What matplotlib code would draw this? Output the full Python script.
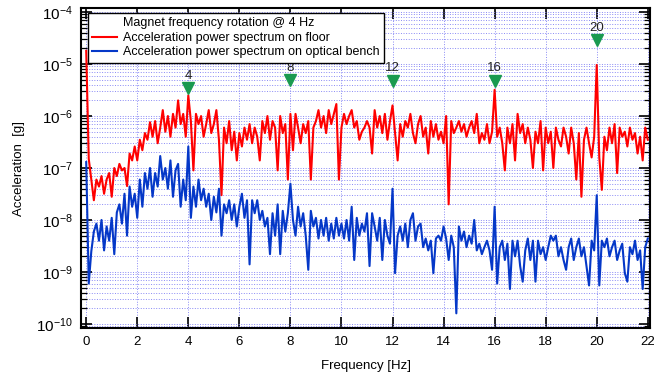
import matplotlib.pyplot as plt
from matplotlib.lines import Line2D
import numpy as np

plt.rcParams['font.family'] = ['Liberation Sans', 'DejaVu Sans']

# frequency grid, 0.1 Hz steps
freq = np.round(np.arange(0, 221) * 0.1, 1)

# floor spectrum [g], one row per Hz
floor = [
    1.8e-5, 1.5e-7, 6e-8, 2.4e-8, 6e-8, 4.4e-8, 7e-8, 3.2e-8, 6e-8, 8e-8,
    2.8e-8, 1e-7, 7e-8, 1.2e-7, 9e-8, 1e-7, 4.5e-8, 1.9e-7, 1.4e-7, 2.6e-7,
    1.4e-7, 3.5e-7, 2.2e-7, 4.7e-7, 3.5e-7, 7.6e-7, 4e-7, 8e-7, 3e-7, 6e-7,
    1.3e-6, 5e-7, 1e-6, 4e-7, 1.1e-6, 6e-7, 2e-6, 7e-7, 1.1e-6, 4e-7,
    2.5e-6, 8e-7, 9e-8, 1.1e-6, 7e-7, 1e-6, 4e-7, 7e-7, 1.3e-6, 4.7e-7,
    7e-7, 1.3e-6, 3.5e-7, 3e-8, 6e-7, 3e-7, 8e-7, 2.2e-7, 5e-7, 1.4e-7,
    4.7e-7, 2.6e-7, 6e-7, 3.5e-7, 7e-7, 3e-7, 6e-7, 4e-7, 1.4e-7, 8e-7,
    4.7e-7, 1e-6, 3.5e-7, 8e-7, 6e-7, 9e-8, 1e-6, 4.7e-7, 7e-7, 6e-8,
    1.1e-6, 2.2e-7, 1.1e-6, 6e-7, 3e-7, 7e-7, 4.7e-7, 8e-7, 6e-8, 6e-7,
    8e-7, 1.3e-6, 6e-7, 1e-6, 4.7e-7, 1.3e-6, 7e-7, 1.1e-6, 1.7e-6, 6e-8,
    6e-7, 1.1e-6, 7e-7, 1e-6, 1.3e-6, 6e-7, 8e-7, 3.5e-7, 5e-7, 6e-7,
    8e-7, 6e-7, 1.9e-7, 1.3e-6, 6e-7, 1e-6, 4.7e-7, 1.1e-6, 3.5e-7, 8e-7,
    1.6e-6, 4.7e-7, 1.4e-7, 7e-7, 4e-7, 8e-7, 6e-7, 1.1e-6, 4.7e-7, 3e-7,
    7e-7, 1e-6, 4e-7, 6e-7, 1.9e-7, 8e-7, 4e-7, 7e-7, 3.5e-7, 5e-7,
    3e-7, 1e-6, 2e-8, 8e-7, 4.7e-7, 6e-7, 8e-7, 5e-7, 7e-7, 4e-7,
    6e-7, 8e-7, 4.7e-7, 1.1e-6, 3e-7, 4.7e-7, 3.5e-7, 7e-7, 3e-7, 5e-7,
    3.2e-6, 4e-7, 6e-7, 3e-7, 9e-8, 6e-7, 3e-7, 7e-7, 1.4e-7, 1.1e-6,
    4.7e-7, 7e-7, 3e-7, 6e-7, 3.5e-7, 1e-7, 5e-7, 3e-7, 8e-7, 9e-8,
    6e-7, 3e-7, 5e-7, 1e-7, 6e-7, 3.5e-7, 2.6e-7, 6e-7, 4e-7, 1.9e-7,
    6e-7, 3e-7, 6e-8, 4.7e-7, 2.8e-8, 3.5e-7, 6e-7, 3e-7, 1.6e-7, 4e-7,
    9.6e-6, 1.6e-7, 3.8e-8, 4e-7, 2.2e-7, 6e-7, 3e-7, 7e-7, 8e-8, 6e-7,
    4e-7, 5e-7, 2.6e-7, 6e-7, 3.5e-7, 4.7e-7, 1.9e-7, 4e-7, 1.4e-7, 6e-7,
    3.5e-7,
]

# optical bench spectrum [g]
bench = [
    1.3e-7, 6e-10, 2.5e-9, 6e-9, 8.5e-9, 4e-9, 1e-8, 2.6e-9, 7.5e-9, 4e-9,
    1.1e-8, 2.2e-9, 1.4e-8, 2e-8, 8.5e-9, 3.2e-8, 5e-9, 4.4e-8, 1.8e-8, 3.2e-8,
    1.1e-8, 6e-8, 1.8e-8, 8e-8, 4e-8, 1e-7, 2.8e-8, 8e-8, 4.4e-8, 1.7e-7,
    6e-8, 1e-7, 4e-8, 1.4e-7, 2.8e-8, 9e-8, 1.2e-7, 1.8e-8, 6e-8, 2.4e-8,
    2.6e-7, 1.1e-8, 4.4e-8, 1.8e-8, 6e-8, 2.4e-8, 4e-8, 1.8e-8, 3.2e-8, 1e-8,
    2.8e-8, 1.4e-8, 4e-8, 5e-9, 2e-8, 1.35e-8, 2.4e-8, 1e-8, 2e-8, 7.5e-9,
    1.8e-8, 3.2e-8, 1.1e-8, 2.4e-8, 1.4e-9, 2.4e-8, 1.35e-8, 2.4e-8, 1e-8, 1.5e-8,
    7.5e-9, 1.1e-8, 2.2e-9, 1.35e-8, 5e-9, 2e-8, 2.2e-9, 1.5e-8, 6e-9, 1.35e-8,
    5e-8, 1e-8, 5e-9, 1.8e-8, 7.5e-9, 1.35e-8, 5e-9, 1.1e-9, 1.5e-8, 7.5e-9,
    1.1e-8, 4.4e-9, 1e-8, 5e-9, 1.1e-8, 4e-9, 8.5e-9, 4.4e-9, 1.1e-8, 5e-9,
    8.5e-9, 4.4e-9, 1e-8, 4e-9, 1.8e-8, 1.7e-9, 1.1e-8, 5e-9, 8.5e-9, 6e-9,
    1.35e-8, 1.3e-9, 1.35e-8, 7.5e-9, 4e-9, 1.1e-8, 1.7e-9, 1e-8, 5e-9, 3.5e-9,
    4e-8, 9.5e-10, 5e-9, 7.5e-9, 4e-9, 8.5e-9, 3e-9, 1e-8, 1.35e-8, 4e-9,
    7.5e-9, 8.5e-9, 3e-9, 4.4e-9, 2.6e-9, 4e-9, 9.5e-10, 4.4e-9, 5e-9, 4e-9,
    7.5e-9, 4.4e-9, 1.7e-9, 5e-9, 3e-9, 1.6e-10, 7.5e-9, 4e-9, 6e-9, 3e-9,
    5e-9, 3.5e-9, 1e-8, 2.6e-9, 3.5e-9, 2.2e-9, 3e-9, 4e-9, 2.6e-9, 1.1e-9,
    1.8e-8, 6e-10, 3e-9, 4e-9, 1.7e-9, 3.5e-9, 4.7e-10, 4e-9, 2e-9, 4e-9,
    1.3e-9, 6.5e-10, 2.6e-9, 4.4e-9, 1.7e-9, 4e-9, 6.5e-10, 4e-9, 2.2e-9, 3e-9,
    1.7e-9, 3e-9, 5e-9, 4e-9, 5e-9, 2e-9, 3e-9, 1.7e-9, 1.1e-9, 3e-9,
    4.4e-9, 1.7e-9, 3e-9, 4.4e-9, 2e-9, 3e-9, 1.3e-9, 5.5e-10, 4e-9, 2.6e-9,
    3e-8, 5.5e-10, 4e-9, 3e-9, 4.4e-9, 2e-9, 3e-9, 4e-9, 1.7e-9, 2.6e-9,
    3.5e-9, 9.5e-10, 6.5e-10, 3e-9, 2.2e-9, 4e-9, 1.7e-9, 2.6e-9, 4.7e-10, 3e-9,
    4.4e-9,
]

# harmonic markers
mark_f = [4, 8, 12, 16, 20]
mark_y = [3.5e-6, 4.9e-6, 4.8e-6, 4.8e-6, 2.9e-5]
mark_txt = ['4', '8', '12', '16', '20']

fig = plt.figure(figsize=(6.54, 3.78), dpi=100)
ax = fig.add_axes([0.124, 0.132, 0.870, 0.847])

ax.plot(freq, floor, color='#ff0000', lw=1.5, label='Acceleration power spectrum on floor')
ax.plot(freq, bench, color='#0538c8', lw=1.5, label='Acceleration power spectrum on optical bench')

ax.plot(mark_f, mark_y, 'v', color='#1a9a50', ms=9, zorder=5)
for f, y, t in zip(mark_f, mark_y, mark_txt):
    ax.annotate(t, (f, y), xytext=(0, 4.5), textcoords='offset points',
                ha='center', va='bottom', fontsize=9.5, color='#222222')

ax.set_yscale('log')
ax.set_xlim(-0.2, 22.09)
ax.set_ylim(10**-10.08, 10**-3.92)
ax.set_xticks(np.arange(0, 23, 2))
ax.set_yticks([1e-10, 1e-9, 1e-8, 1e-7, 1e-6, 1e-5, 1e-4])

ax.grid(True, which='major', color='#8a8af5', ls=':', lw=0.7)
ax.grid(True, which='minor', axis='y', color='#8a8af5', ls=':', lw=0.7)

ax.tick_params(which='both', direction='in', top=True, right=True, color='black')
ax.tick_params(which='major', length=8, width=1.2, labelsize=9.5, pad=6)
ax.tick_params(axis='y', which='major', labelsize=11)
ax.tick_params(which='minor', length=4, width=0.9)
for s in ax.spines.values():
    s.set_linewidth(1.5)

ax.set_xlabel('Frequency [Hz]', fontsize=9.5, labelpad=8)
ax.set_ylabel('Acceleration  [g]', fontsize=9.5, labelpad=8)

handles = [Line2D([], [], color='none', label='Magnet frequency rotation @ 4 Hz')]
handles += ax.get_lines()[:2]
leg = ax.legend(handles=handles, loc='upper left', bbox_to_anchor=(0.0123, 0.984),
                borderaxespad=0, fontsize=9, fancybox=False, framealpha=1,
                edgecolor='black', handlelength=2.0, handletextpad=0.45,
                labelspacing=0.2, borderpad=0.35)
leg.get_frame().set_linewidth(1.0)
leg.set_zorder(10)

fig.savefig('out.png', dpi=100)
